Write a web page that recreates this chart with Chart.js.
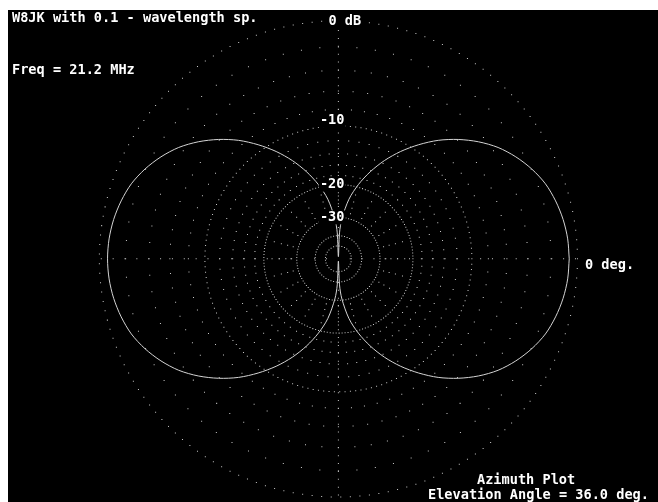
<!DOCTYPE html>
<html><head><meta charset="utf-8">
<script src="https://cdn.jsdelivr.net/npm/chart.js@4/dist/chart.umd.min.js"></script>
<style>html,body{margin:0;padding:0;background:#fff;overflow:hidden}canvas{display:block}</style>
</head><body>
<canvas id="c" width="658" height="502"></canvas>
<script>
// ---- data ----
const azimuthDeg = [0,5,10,15,20,25,30,35,40,45,50,55,60,65,70,75,80,85,87.5,90,92.5,95,100,105,110,115,120,125,130,135,140,145,150,155,160,165,170,175,
  180,185,190,195,200,205,210,215,220,225,230,235,240,245,250,255,260,265,267.5,270,272.5,275,280,285,290,295,300,305,310,315,320,325,330,335,340,345,350,355,360];
const gainDb = [-0.6,-0.65,-0.8,-1.05,-1.4,-1.95,-2.65,-3.5,-4.6,-5.9,-7.4,-9.2,-11.2,-13.5,-16.2,-19.4,-23.5,-30.5,-38,-80,-38,-30.5,-23.5,-19.4,-16.2,-13.5,-11.2,-9.2,-7.4,-5.9,-4.6,-3.5,-2.65,-1.95,-1.4,-1.05,-0.8,-0.65,
  -0.6,-0.65,-0.8,-1.05,-1.4,-1.95,-2.65,-3.5,-4.6,-5.9,-7.4,-9.2,-11.2,-13.5,-16.2,-19.4,-23.5,-30.5,-38,-80,-38,-30.5,-23.5,-19.4,-16.2,-13.5,-11.2,-9.2,-7.4,-5.9,-4.6,-3.5,-2.65,-1.95,-1.4,-1.05,-0.8,-0.65,-0.6];
const ringLevelsDb = [0,-10,-20,-30,-40,-50];
const ringLabels = ['0 dB','-10','-20','-30'];
const latticeLevelsDb = [-2,-4,-6,-8,-12,-14,-16,-18];
const innerLatticeLevelsDb = [-22,-24,-26,-28];
const titleText = 'W8JK with 0.1 - wavelength sp.';
const freqText = 'Freq = 21.2 MHz';
const plotTypeText = 'Azimuth Plot';
const elevText = 'Elevation Angle = 36.0 deg.';
const zeroDegText = '0 deg.';

// ---- layout ----
const W = 658, H = 502, CX = 338.5, CY = 259, RPX = 242;
const arrl = db => Math.pow(0.89, -db / 2);
const rad = d => d * Math.PI / 180;
const polar = (r, a) => ({x: r * Math.cos(rad(a)), y: r * Math.sin(rad(a))});

const patternPts = azimuthDeg.map((a, i) => polar(arrl(gainDb[i]), a));

const ringPts = [];
ringLevelsDb.forEach(db => {
  const r = arrl(db), rp = r * RPX;
  const n = Math.round(2 * Math.PI * rp / Math.max(2.8, rp * 0.04));
  for (let k = 0; k < n; k++) ringPts.push(polar(r, 360 * k / n));
});
const latticePts = [];
latticeLevelsDb.forEach(db => { for (let a = 0; a < 360; a += 5) latticePts.push(polar(arrl(db), a)); });
innerLatticeLevelsDb.forEach(db => { for (let a = 0; a < 360; a += 15) latticePts.push(polar(arrl(db), a)); });
const axisPts = [];
for (let p = 12; p <= RPX; p += 12) { axisPts.push({x: p / RPX, y: 0}); axisPts.push({x: -p / RPX, y: 0}); }
for (let p = 8; p <= RPX; p += 8) { axisPts.push({x: 0, y: p / RPX}); axisPts.push({x: 0, y: -p / RPX}); }

const bgPlugin = {
  id: 'bg',
  beforeDraw(chart) {
    const c = chart.ctx;
    c.save();
    c.fillStyle = '#ffffff'; c.fillRect(0, 0, W, H);
    c.fillStyle = '#000000'; c.fillRect(8, 10, W - 8, H - 10);
    c.restore();
  },
  afterDatasetsDraw(chart) {
    const c = chart.ctx, xs = chart.scales.x, ys = chart.scales.y;
    c.save();
    c.font = 'bold 13.6px "DejaVu Sans Mono"';
    c.textBaseline = 'middle';
    c.textAlign = 'left';
    const txt = (t, x, y, bg) => {
      if (bg) { c.fillStyle = '#000'; c.fillRect(x - 1, y - 7, c.measureText(t).width + 2, 14); }
      c.fillStyle = '#ffffff'; c.fillText(t, x, y);
    };
    const cx = xs.getPixelForValue(0);
    ringLabels.forEach((t, i) => {
      const y = ys.getPixelForValue(arrl(ringLevelsDb[i]));
      const x = i === 0 ? cx - 10 : cx - 18.5;
      txt(t, x, i === 0 ? y + 1 : (i === 1 ? y - 5 : y), true);
    });
    txt(titleText, 12, 18);
    txt(freqText, 12, 70);
    txt(zeroDegText, 585, 265);
    txt(plotTypeText, 477, 480);
    txt(elevText, 428, 495);
    c.restore();
  }
};

new Chart(document.getElementById('c'), {
  type: 'scatter',
  data: {
    datasets: [
      {data: ringPts, pointStyle: 'rect', pointRadius: 0.71, backgroundColor: '#c8c8c8', borderWidth: 0, showLine: false},
      {data: latticePts, pointStyle: 'rect', pointRadius: 0.71, backgroundColor: '#c8c8c8', borderWidth: 0, showLine: false},
      {data: axisPts, pointStyle: 'rect', pointRadius: 0.71, backgroundColor: '#c8c8c8', borderWidth: 0, showLine: false},
      {data: patternPts, showLine: true, borderColor: '#d4d4d4', borderWidth: 1, pointRadius: 0, tension: 0.3, fill: false}
    ]
  },
  options: {
    responsive: false, animation: false, devicePixelRatio: 1,
    layout: {padding: 0},
    plugins: {legend: {display: false}, tooltip: {enabled: false}},
    scales: {
      x: {type: 'linear', display: false, min: -CX / RPX, max: (W - CX) / RPX},
      y: {type: 'linear', display: false, min: -(H - CY) / RPX, max: CY / RPX}
    }
  },
  plugins: [bgPlugin]
});
</script>
</body></html>
